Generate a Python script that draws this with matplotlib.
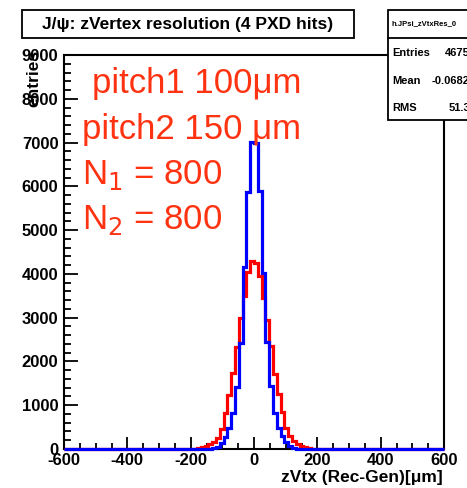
import numpy as np
import matplotlib
matplotlib.use("Agg")
import matplotlib.pyplot as plt
from matplotlib.patches import Rectangle
from matplotlib.ticker import MultipleLocator

# ---- data (12 um bins, non-zero region from -180 to 180 um) ----
bin_width = 12
region_lo, region_hi = -180, 180
x_range = (-600, 600)
red_counts = [25, 45, 75, 110, 170, 260, 450, 820, 1230, 1740, 2330, 3000, 3500, 4050, 4300,
              4250, 3950, 3450, 2950, 2350, 1720, 1260, 850, 480, 290, 180, 115, 75, 45, 20]
blue_counts = [0, 0, 0, 8, 20, 55, 140, 280, 480, 820, 1420, 2420, 4150, 5880, 7020,
               7000, 5900, 4020, 2450, 1450, 830, 490, 290, 150, 60, 25, 10, 0, 0, 0]
y_ticks = [0, 1000, 2000, 3000, 4000, 5000, 6000, 7000, 8000, 9000]
x_ticks = [-600, -400, -200, 0, 200, 400, 600]
title = "J/\u03c8: zVertex resolution (4 PXD hits)"
xlabel = "zVtx (Rec-Gen)[\u03bcm]"
ylabel = "entries"
notes = ["pitch1 100\u03bcm", "pitch2 150 \u03bcm", "N$_1$ = 800", "N$_2$ = 800"]
stats_name = "h.JPsi_zVtxRes_0"
stats = [("Entries", "46750"), ("Mean", "-0.06827"), ("RMS", "51.34")]

edges = np.arange(x_range[0], x_range[1] + bin_width, bin_width)
nb = len(edges) - 1
i0 = int((region_lo - x_range[0]) / bin_width)
red = np.zeros(nb); red[i0:i0 + len(red_counts)] = red_counts
blue = np.zeros(nb); blue[i0:i0 + len(blue_counts)] = blue_counts

plt.rcParams['font.family'] = ['Liberation Sans', 'DejaVu Sans']
plt.rcParams['axes.unicode_minus'] = False

W, H = 467, 488
fig = plt.figure(figsize=(W / 100, H / 100), dpi=100)

def px(x, y):
    return x / W, 1 - y / H

L, R, T, B = 64, 444, 55, 449
ax = fig.add_axes([L / W, 1 - B / H, (R - L) / W, (B - T) / H])
ax.stairs(red, edges, color="#ff0000", lw=2.3, baseline=None, zorder=3, clip_on=False)
ax.stairs(blue, edges, color="#0000ff", lw=2.3, baseline=None, zorder=4, clip_on=False)
ax.set_xlim(*x_range)
ax.set_ylim(0, 9000)
ax.set_xticks(x_ticks)
ax.set_yticks(y_ticks)
ax.xaxis.set_minor_locator(MultipleLocator(50))
ax.yaxis.set_minor_locator(MultipleLocator(200))
ax.tick_params(which="major", direction="in", length=10, width=1.3, labelsize=12, pad=4)
ax.tick_params(which="minor", direction="in", length=5, width=1.3)
ax.tick_params(axis="x", which="major", length=9, pad=3)
ax.tick_params(axis="x", which="minor", length=4.5)
for lab in ax.get_xticklabels() + ax.get_yticklabels():
    lab.set_fontweight("bold")
for s in ax.spines.values():
    s.set_linewidth(1.5)

# axis titles
fig.text(*px(443, 482), xlabel, ha="right", va="baseline", fontsize=12.5, fontweight="bold")
fig.text(*px(34, 50), ylabel, ha="center", va="top", rotation=90, fontsize=12.5, fontweight="bold")

# annotations
note_color = "#ff3311"
note_pos = [(92, 93), (82, 139), (82, 184), (82, 229)]
for (xx, yy), t in zip(note_pos, notes):
    fig.text(*px(xx, yy), t, ha="left", va="baseline", fontsize=25, color=note_color)

# title box
fig.patches.append(Rectangle(px(22, 38), (354 - 22) / W, 28 / H, transform=fig.transFigure,
                             facecolor="white", edgecolor="black", lw=1.3))
fig.text(*px(188, 24), title, ha="center", va="center", fontsize=12.5, fontweight="bold")

# stats box
fig.patches.append(Rectangle(px(388, 120), 100 / W, 110 / H, transform=fig.transFigure,
                             facecolor="white", edgecolor="black", lw=1.3, zorder=5))
fig.add_artist(plt.Line2D([388 / W, 1], [1 - 38 / H, 1 - 38 / H], transform=fig.transFigure,
                          color="black", lw=1.3, zorder=6))
fig.text(*px(392, 24), stats_name, ha="left", va="center", fontsize=5.5, fontweight="bold", zorder=7)
for k, (name, val) in enumerate(stats):
    yy = 53 + k * 27.5
    fig.text(*px(392, yy), name, ha="left", va="center", fontsize=8, fontweight="bold", zorder=7)
    fig.text(*px(476, yy), val, ha="right", va="center", fontsize=8, fontweight="bold", zorder=7)

fig.savefig("out.png", dpi=100)
